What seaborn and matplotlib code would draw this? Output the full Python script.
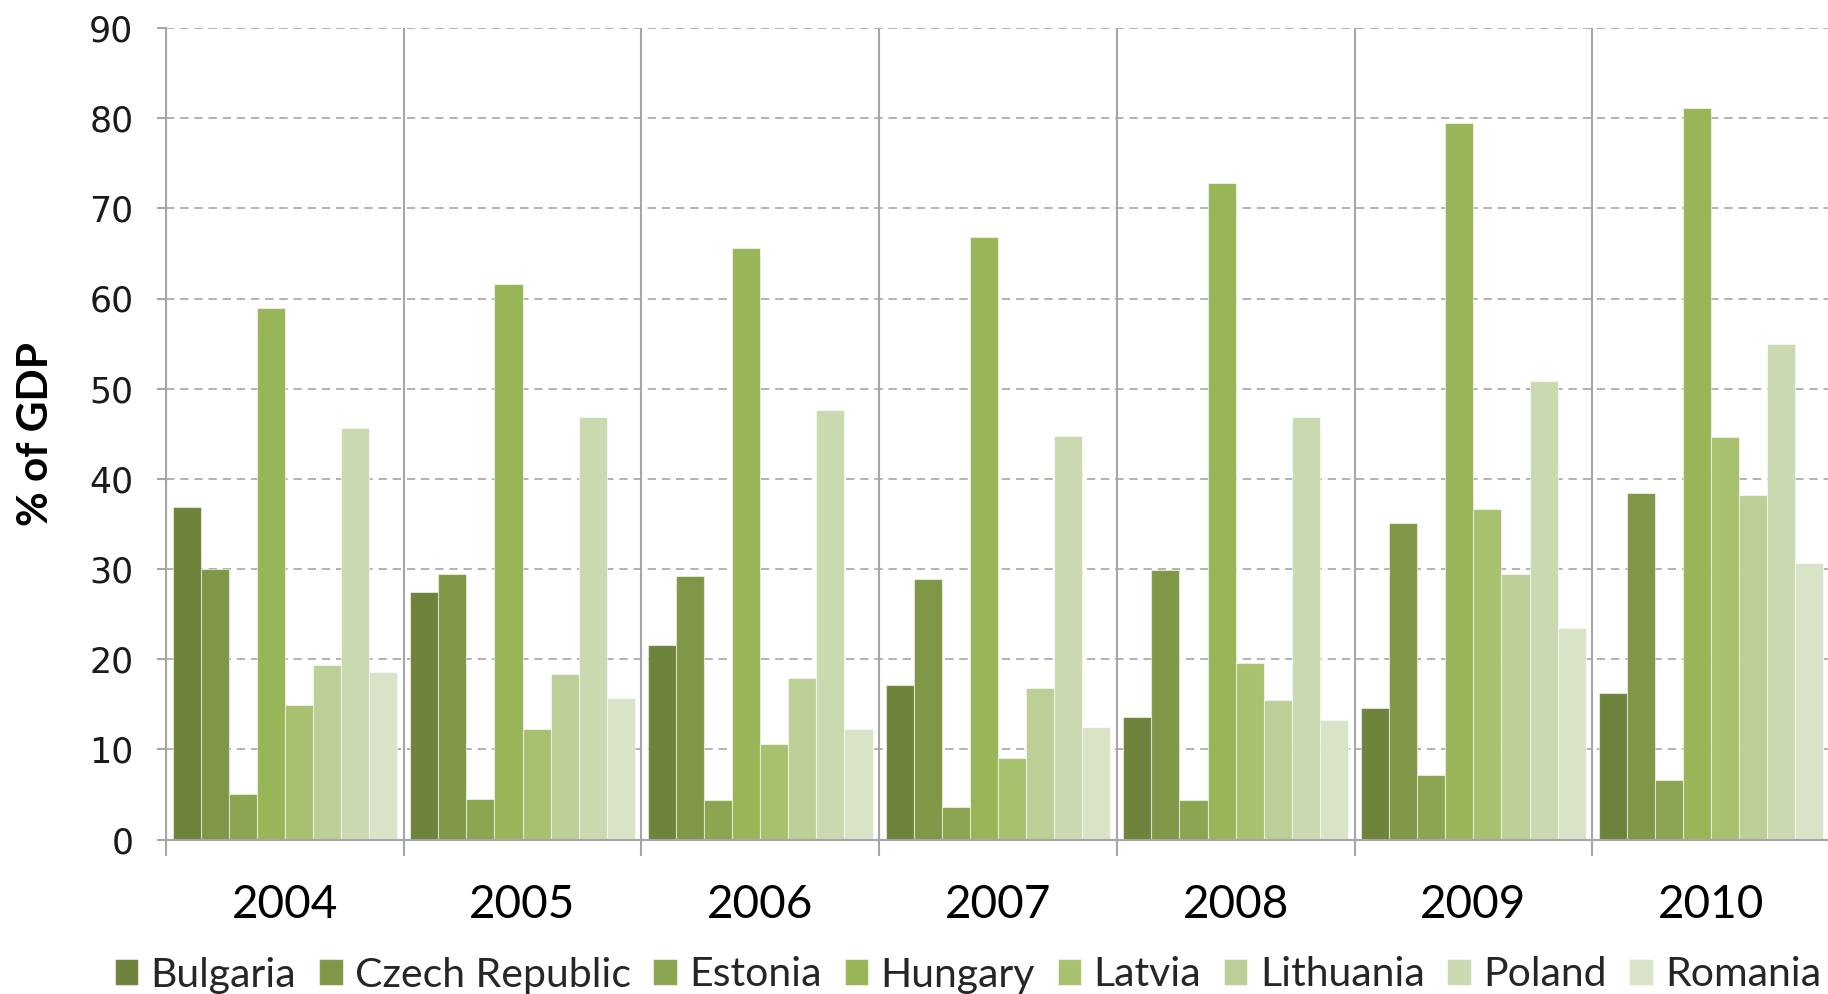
import numpy as np
import pandas as pd
import matplotlib
matplotlib.use("Agg")
import matplotlib.pyplot as plt
import seaborn as sns

# Public debt, % of GDP
years = ["2004", "2005", "2006", "2007", "2008", "2009", "2010"]
countries = ["Bulgaria", "Czech Republic", "Estonia", "Hungary",
             "Latvia", "Lithuania", "Poland", "Romania"]

bulgaria = [36.9, 27.5, 21.6, 17.1, 13.6, 14.6, 16.2]
czech_republic = [30.0, 29.5, 29.2, 28.9, 29.9, 35.1, 38.4]
estonia = [5.0, 4.5, 4.4, 3.6, 4.4, 7.1, 6.6]
hungary = [58.9, 61.6, 65.6, 66.8, 72.8, 79.5, 81.1]
latvia = [14.9, 12.3, 10.6, 9.0, 19.6, 36.6, 44.6]
lithuania = [19.3, 18.4, 17.9, 16.8, 15.5, 29.4, 38.2]
poland = [45.6, 46.9, 47.6, 44.8, 46.9, 50.8, 54.9]
romania = [18.6, 15.7, 12.3, 12.5, 13.2, 23.5, 30.7]

series = [bulgaria, czech_republic, estonia, hungary,
          latvia, lithuania, poland, romania]

palette = ["#6E833C", "#7F9747", "#8BA550", "#98B558",
           "#A7C16F", "#BBCF97", "#CBD9B1", "#D9E3C8"]

df = pd.DataFrame(
    [(y, c, v) for c, vals in zip(countries, series) for y, v in zip(years, vals)],
    columns=["year", "country", "value"],
)

sns.set_theme(style="white")
plt.rcParams["font.family"] = ["DejaVu Sans"]

fig = plt.figure(figsize=(18.28, 9.94), dpi=100)
ax = fig.add_axes([166 / 1828, 1 - 839.5 / 994, 7 * 237.7 / 1828, 811.5 / 994])

sns.barplot(
    data=df, x="year", y="value", hue="country",
    order=years, hue_order=countries, palette=palette,
    saturation=1, width=0.945, gap=0,
    edgecolor=(1, 1, 1, 0.55), linewidth=0.8,
    errorbar=None, ax=ax,
)

handles, labels = ax.get_legend_handles_labels()
if ax.get_legend() is not None:
    ax.get_legend().remove()

grid_gray = "#A6A6A6"

ax.set_xlim(-0.5, 6.5)
ax.set_ylim(0, 90)
ax.set_yticks(np.arange(0, 91, 10))
ax.set_xlabel("")
ax.set_ylabel("")

# dashed horizontal gridlines behind the bars
ax.set_axisbelow(True)
ax.yaxis.grid(True, linestyle=(0, (5, 3.5)), color=grid_gray, linewidth=1.2)

# solid separators between year groups
ax.set_xticks(np.arange(-0.5, 7.0, 1.0), minor=True)
ax.xaxis.grid(True, which="minor", color=grid_gray, linewidth=1.5, linestyle="-")
ax.xaxis.grid(False, which="major")
ax.tick_params(axis="x", which="minor", length=11.5, width=1.5, color=grid_gray,
               direction="out", bottom=True)
ax.tick_params(axis="x", which="major", length=0, pad=32, labelsize=33,
               labelcolor="black", bottom=True)
for lbl in ax.get_xticklabels():
    lbl.set_family(["Lato", "DejaVu Sans"])

ax.tick_params(axis="y", which="major", length=6.5, width=1.5, color=grid_gray,
               direction="out", left=True, pad=17, labelsize=25, labelcolor="#1a1a1a")

for side in ("top", "right"):
    ax.spines[side].set_visible(False)
for side in ("left", "bottom"):
    ax.spines[side].set_color(grid_gray)
    ax.spines[side].set_linewidth(1.5)

fig.text(36 / 1828, 1 - 434 / 994, "% of GDP", rotation=90,
         fontsize=30.5, fontweight="bold",
         family=["Lato", "DejaVu Sans"],
         ha="center", va="center", color="black")

fig.legend(
    handles, labels, loc="center",
    bbox_to_anchor=(968 / 1828, 1 - 975 / 994),
    ncol=8, frameon=False,
    prop={"family": ["Lato", "DejaVu Sans"], "size": 29.5},
    handlelength=0.58, handleheight=0.58, handletextpad=0.3,
    columnspacing=0.55, borderaxespad=0,
)

fig.savefig("out.png", dpi=100)
